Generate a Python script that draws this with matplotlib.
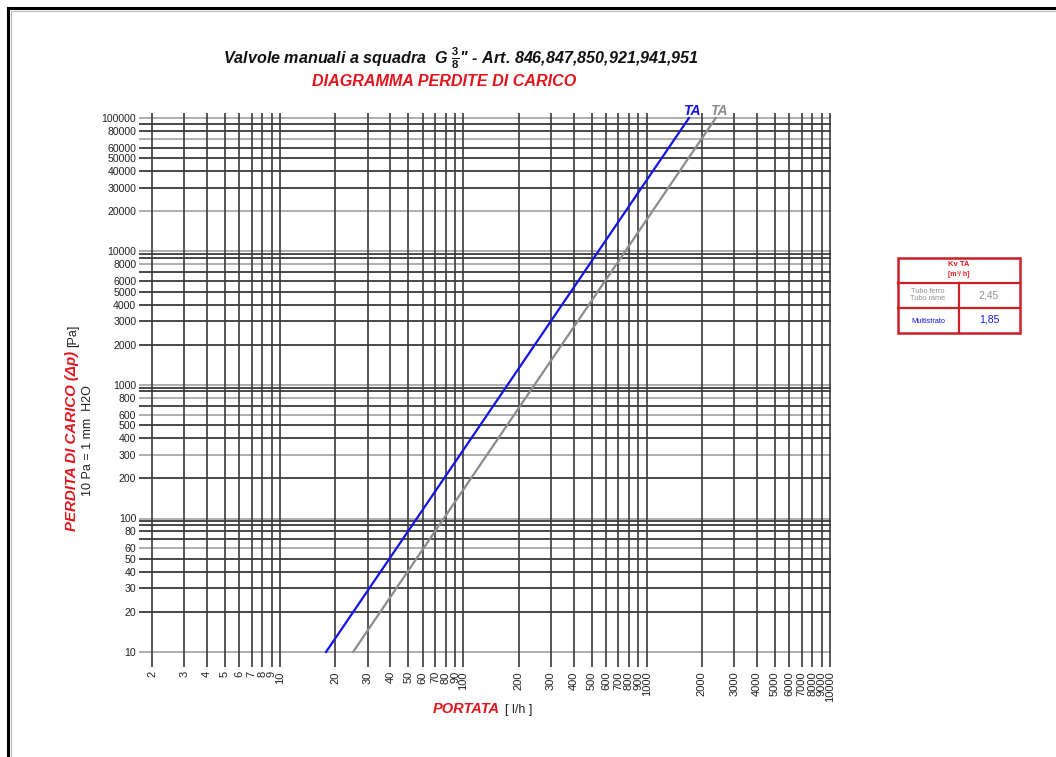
import matplotlib
matplotlib.use("Agg")
import matplotlib.pyplot as plt
from matplotlib.lines import Line2D
from matplotlib.patches import Rectangle

plt.rcParams['font.family'] = ['Liberation Sans', 'DejaVu Sans']
plt.rcParams['mathtext.fontset'] = 'custom'
plt.rcParams['mathtext.rm'] = 'Liberation Sans:bold:italic'
plt.rcParams['mathtext.bf'] = 'Liberation Sans:bold'
plt.rcParams['mathtext.it'] = 'Liberation Sans:bold:italic'

# ---------------- data ----------------
x_ticks = [2, 3, 4, 5, 6, 7, 8, 9, 10,
           20, 30, 40, 50, 60, 70, 80, 90, 100,
           200, 300, 400, 500, 600, 700, 800, 900, 1000,
           2000, 3000, 4000, 5000, 6000, 7000, 8000, 9000, 10000]
y_ticks = [10, 20, 30, 40, 50, 60, 80, 100,
           200, 300, 400, 500, 600, 800, 1000,
           2000, 3000, 4000, 5000, 6000, 8000, 10000,
           20000, 30000, 40000, 50000, 60000, 80000, 100000]
y_grid = [10, 20, 30, 40, 50, 60, 70, 80, 90, 95, 100,
          200, 300, 400, 500, 600, 700, 800, 900, 950, 1000,
          2000, 3000, 4000, 5000, 6000, 7000, 8000, 9000, 9500, 10000,
          20000, 30000, 40000, 50000, 60000, 70000, 80000, 90000, 100000]
y_grid_light = [10, 60, 100, 300, 600, 800, 1000, 8000, 10000, 20000, 70000, 100000]

dp_line = [10, 100000]            # Pa
flow_multistrato = [17.8, 1700]   # l/h  (blue, Kv 1,85)
flow_ferro_rame = [25.0, 2380]    # l/h  (gray, Kv 2,45)

kv_rows = ["Tubo ferro\nTubo rame", "Multistrato"]
kv_vals = ["2,45", "1,85"]

RED = '#e3141b'
BLUE = '#1414e6'
GRAY = '#8c8c8c'
DARK = '#3a3a3a'
LIGHT = '#a8a8a8'

W, H = 1056, 757
fig = plt.figure(figsize=(W / 100, H / 100), dpi=100)
fig.patch.set_facecolor('white')


def P(x, y):
    return (x / W, 1 - y / H)


# axes placement (pixels)
L, R, T, B = 139, 831, 113, 667
ax = fig.add_axes([L / W, 1 - B / H, (R - L) / W, (B - T) / H])
ax.set_xscale('log')
ax.set_yscale('log')
xmin = 10 ** (0.2301)
xmax = 10 ** (4 + 1 / 183.3)
ymin = 10 ** (1 - 15 / 133.5)
ymax = 10 ** (5 + 5 / 133.5)
ax.set_xlim(xmin, xmax)
ax.set_ylim(ymin, ymax)
for s in ax.spines.values():
    s.set_visible(False)
ax.set_facecolor('none')

# horizontal grid lines (from 10 to 100000)
for v in y_grid:
    c = LIGHT if v in y_grid_light else DARK
    ax.plot([xmin, xmax], [v, v], color=c, lw=1.3, solid_capstyle='butt', zorder=1)
# vertical grid lines
for v in x_ticks:
    ax.plot([v, v], [ymin, ymax], color=DARK, lw=1.2, solid_capstyle='butt', zorder=1)

# curves
ax.plot(flow_multistrato, dp_line, color=BLUE, lw=1.6, zorder=3)
ax.plot(flow_ferro_rame, dp_line, color=GRAY, lw=1.6, zorder=3)

# ticks
ax.set_xticks(x_ticks)
ax.set_xticklabels([str(v) for v in x_ticks], rotation=90, fontsize=8)
ax.set_yticks(y_ticks)
ax.set_yticklabels([str(v) for v in y_ticks], fontsize=7.6)
ax.minorticks_off()
ax.tick_params(axis='both', length=0, colors='#222222')
ax.tick_params(axis='x', pad=3)
ax.tick_params(axis='y', pad=2)

# TA labels
fig.text(*P(692, 111), 'TA', color=BLUE, fontsize=10, fontweight='bold',
         style='italic', ha='center', va='center')
fig.text(*P(719, 111), 'TA', color=GRAY, fontsize=10, fontweight='bold',
         style='italic', ha='center', va='center')

# titles
fig.text(*P(461, 58), r'Valvole manuali a squadra  G $\mathbf{\frac{3}{8}}$" - Art. 846,847,850,921,941,951',
         fontsize=11.6, fontweight='bold', style='italic', ha='center', va='center', color='#111111')
fig.text(*P(444, 81), 'DIAGRAMMA PERDITE DI CARICO', fontsize=11.6, fontweight='bold',
         style='italic', ha='center', va='center', color=RED)

# y label
fig.text(*P(76, 351), 'PERDITA DI CARICO (Δp)', rotation=90, rotation_mode='anchor',
         ha='right', va='baseline', fontsize=10.8, fontweight='bold', style='italic', color=RED)
fig.text(*P(76, 347), '[Pa]', rotation=90, rotation_mode='anchor',
         ha='left', va='baseline', fontsize=9, color='#222222')
fig.text(*P(88, 441), '10 Pa = 1 mm  H2O', rotation=90, ha='center', va='center',
         fontsize=9, color='#222222')

# x label
fig.text(*P(500, 713), 'PORTATA', ha='right', va='baseline', fontsize=10.5,
         fontweight='bold', style='italic', color=RED)
fig.text(*P(505, 713), '[ l/h ]', ha='left', va='baseline', fontsize=9, color='#222222')

# Kv table
tx0, tx1, tmid = 898, 1020, 959
ty0, ty1, ty2, ty3 = 258, 283, 308, 333
trans = fig.transFigure


def rect(x0, y0, x1, y1):
    (fx0, fy1) = P(x0, y0)
    (fx1, fy0) = P(x1, y1)
    r = Rectangle((fx0, fy0), fx1 - fx0, fy1 - fy0, transform=trans,
                  fill=False, edgecolor='#cc1f26', lw=1.8)
    fig.add_artist(r)


rect(tx0, ty0, tx1, ty3)
fig.add_artist(Line2D([P(tx0, 0)[0], P(tx1, 0)[0]], [P(0, ty1)[1]] * 2, transform=trans,
                      color='#cc1f26', lw=1.6))
fig.add_artist(Line2D([P(tx0, 0)[0], P(tx1, 0)[0]], [P(0, ty2)[1]] * 2, transform=trans,
                      color='#cc1f26', lw=1.6))
fig.add_artist(Line2D([P(tmid, 0)[0]] * 2, [P(0, ty1)[1], P(0, ty3)[1]], transform=trans,
                      color='#cc1f26', lw=1.6))
fig.text(*P(959, 265), 'Kv TA', fontsize=5.5, fontweight='bold', color=RED, ha='center', va='center')
fig.text(*P(959, 275), '[m³/ h]', fontsize=5, fontweight='bold', color=RED, ha='center', va='center')
fig.text(*P(928, 295), kv_rows[0], fontsize=5.3, color='#909090', ha='center', va='center',
         linespacing=1.1)
fig.text(*P(989, 295), kv_vals[0], fontsize=7.5, color='#909090', ha='center', va='center')
fig.text(*P(928, 321), kv_rows[1], fontsize=5.3, color=BLUE, ha='center', va='center')
fig.text(*P(989, 320), kv_vals[1], fontsize=7.5, color=BLUE, ha='center', va='center')

# page border (top and left)
fig.add_artist(Line2D([P(8, 0)[0], 1.0], [P(0, 8)[1]] * 2, transform=trans, color='black', lw=2.2))
fig.add_artist(Line2D([P(8, 0)[0]] * 2, [P(0, 8)[1], 0.0], transform=trans, color='black', lw=2.2))
fig.add_artist(Line2D([P(10.5, 0)[0], 1.0], [P(0, 10.5)[1]] * 2, transform=trans, color='#bbbbbb', lw=0.8))
fig.add_artist(Line2D([P(10.5, 0)[0]] * 2, [P(0, 10.5)[1], 0.0], transform=trans, color='#bbbbbb', lw=0.8))

fig.savefig('out.png', dpi=100, facecolor='white')
